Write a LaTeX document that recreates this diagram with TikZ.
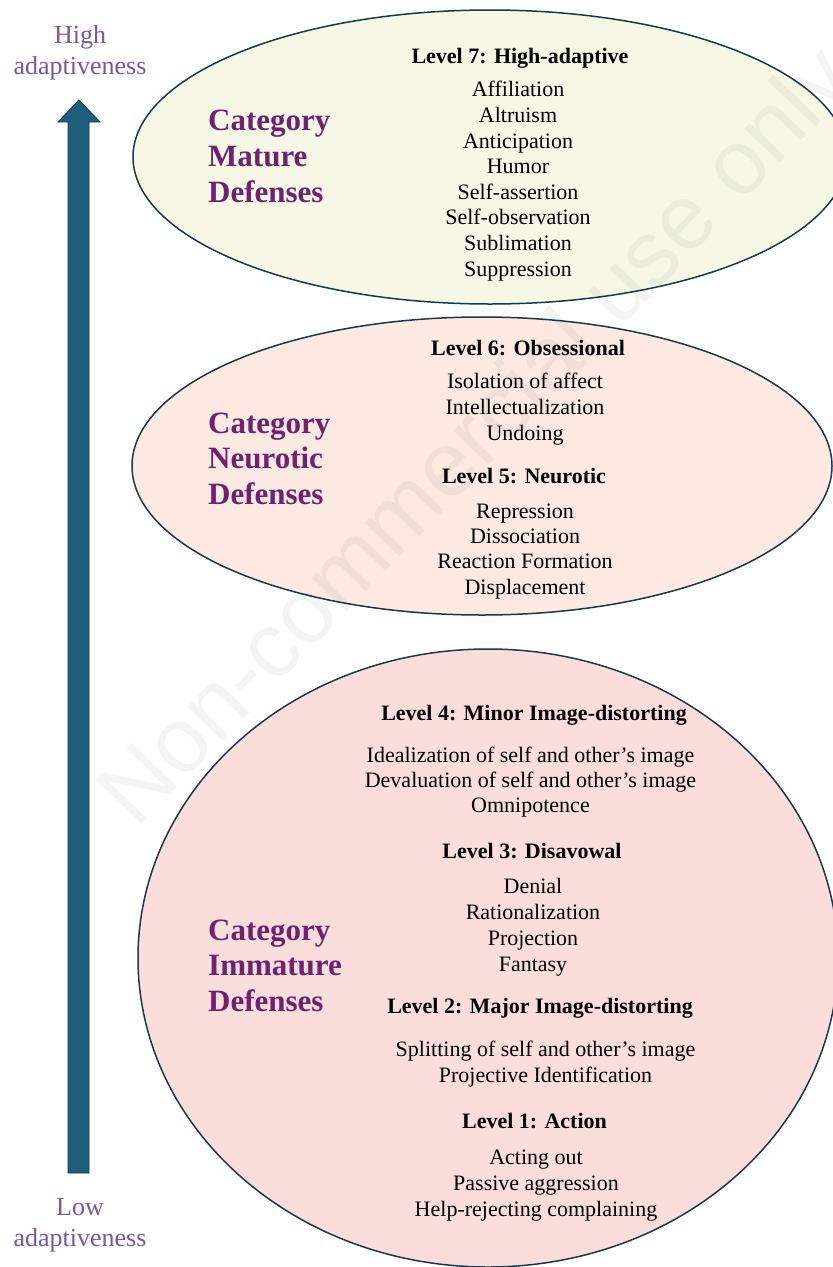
\documentclass[tikz,border=0pt]{standalone}
\usepackage{fontspec}
\setmainfont{Liberation Serif}
\newfontfamily\wmfont{Liberation Sans}
\definecolor{outl}{HTML}{17394A}
\definecolor{fillA}{HTML}{F6F8E5}
\definecolor{fillB}{HTML}{FBE9E2}
\definecolor{fillC}{HTML}{FBDEDB}
\definecolor{catcol}{HTML}{6D2370}
\definecolor{adcol}{HTML}{7B55A4}
\definecolor{arrcol}{HTML}{1C5E7B}
\tikzset{
  bubble/.style={draw=outl, line width=1.5pt},
  itemtext/.style={anchor=base, align=center, inner sep=0pt, font=\fontsize{22}{25.6}\selectfont},
  headtext/.style={anchor=base, inner sep=0pt, font=\fontsize{22}{25.6}\selectfont\bfseries},
  cattext/.style={anchor=base west, align=left, inner sep=0pt, text=catcol, font=\fontsize{31}{36}\selectfont\bfseries},
  adtext/.style={anchor=base, align=center, inner sep=0pt, text=adcol, font=\fontsize{26}{31}\selectfont},
}
\begin{document}
\begin{tikzpicture}[x=1pt, y=-1pt]
\clip (0,0) rectangle (833,1267);
\fill[white] (0,0) rectangle (833,1267);
% ellipses
\draw[bubble, fill=fillA] (490,157) ellipse [x radius=357pt, y radius=147pt];
\draw[bubble, fill=fillB] (482,466) ellipse [x radius=350pt, y radius=149pt];
\draw[bubble, fill=fillC] (488,958) ellipse [x radius=350pt, y radius=309pt];
% watermark
\node[rotate=46, text=black, opacity=0.045, font=\wmfont\fontsize{92}{92}\selectfont, inner sep=0pt] (wm) at (480,440) {Non-commercial use only};
% arrow
\draw[draw=outl, line width=0.8pt, fill=arrcol, line join=miter]
  (68,1173) -- (68,122) -- (58,122) -- (79,100) -- (100,122) -- (89,122) -- (89,1173) -- cycle;
\coordinate (arrtip) at (79,100);
\coordinate (arrbase) at (79,1173);
% adaptiveness labels (anchor = baseline of last line)
\node[adtext] (high) at (80,74) {High\\adaptiveness};
\node[adtext] (low) at (80,1246) {Low\\adaptiveness};
% categories
\node[cattext, font=\fontsize{31}{36}\selectfont\bfseries] (catA) at (208,202) {Category\\Mature\\Defenses};
\node[cattext, font=\fontsize{31}{35.5}\selectfont\bfseries] (catB) at (208,504) {Category\\Neurotic\\Defenses};
\node[cattext, font=\fontsize{31}{35.5}\selectfont\bfseries] (catC) at (208,1011) {Category\\Immature\\Defenses};
% top
\node[headtext] (l7) at (520,63) {Level 7: High-adaptive};
\node[itemtext] (l7i) at (518,276) {Affiliation\\Altruism\\Anticipation\\Humor\\Self-assertion\\Self-observation\\Sublimation\\Suppression};
% middle
\node[headtext] (l6) at (528,355) {Level 6: Obsessional};
\node[itemtext, font=\fontsize{22}{26}\selectfont] (l6i) at (525,440) {Isolation of affect\\Intellectualization\\Undoing};
\node[headtext] (l5) at (524,483) {Level 5: Neurotic};
\node[itemtext, font=\fontsize{22}{25.3}\selectfont] (l5i) at (525,594) {Repression\\Dissociation\\Reaction Formation\\Displacement};
% bottom
\node[headtext] (l4) at (534,720) {Level 4: Minor Image-distorting};
\node[itemtext, font=\fontsize{22}{25}\selectfont] (l4i) at (530.5,812) {Idealization of self and other’s image\\Devaluation of self and other’s image\\Omnipotence};
\node[headtext] (l3) at (532,858) {Level 3: Disavowal};
\node[itemtext, font=\fontsize{22}{25.7}\selectfont] (l3i) at (533,971) {Denial\\Rationalization\\Projection\\Fantasy};
\node[headtext] (l2) at (540,1013) {Level 2: Major Image-distorting};
\node[itemtext, font=\fontsize{22}{26}\selectfont] (l2i) at (545.5,1082) {Splitting of self and other’s image\\Projective Identification};
\node[headtext] (l1) at (534.5,1128) {Level 1: Action};
\node[itemtext, font=\fontsize{22}{26}\selectfont] (l1i) at (536,1216) {Acting out\\Passive aggression\\Help-rejecting complaining};
\end{tikzpicture}
\end{document}
